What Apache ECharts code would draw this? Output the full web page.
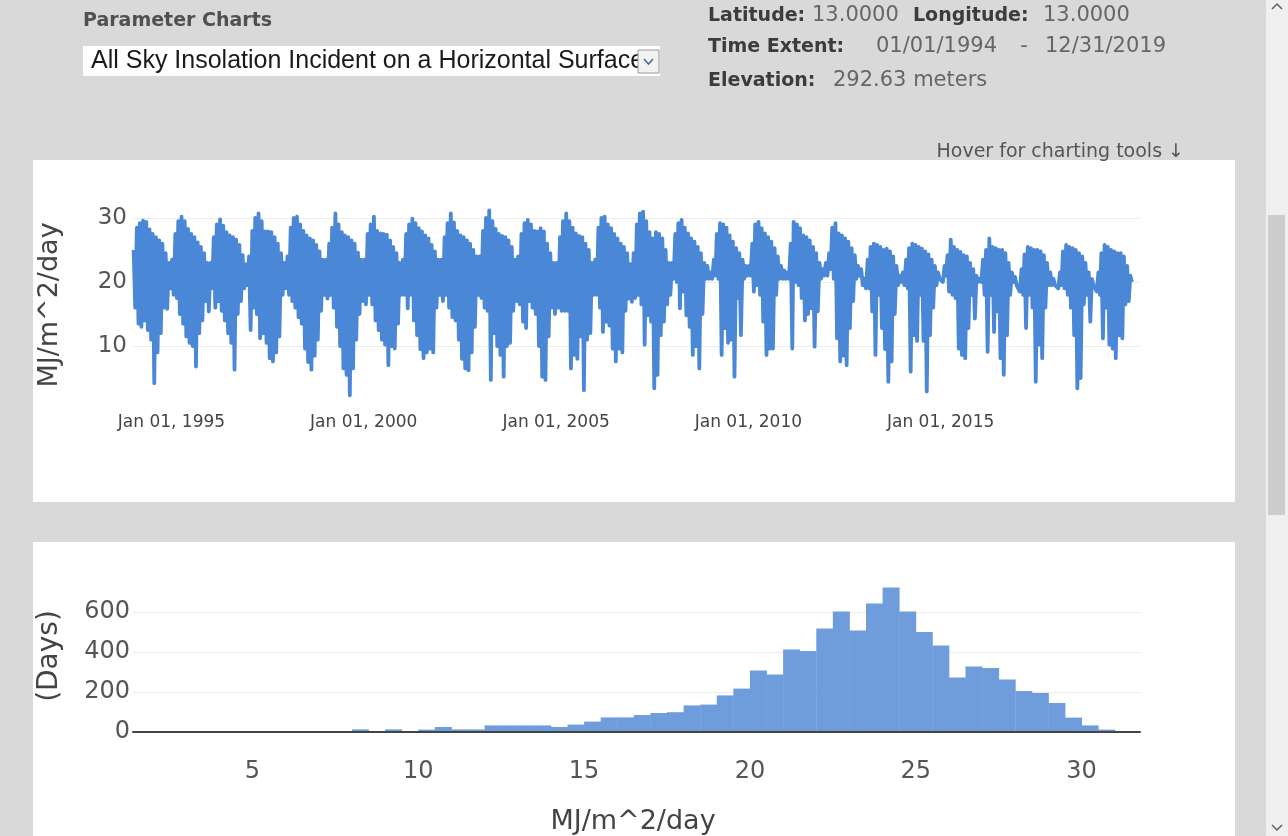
<!DOCTYPE html>
<html><head><meta charset="utf-8">
<script src="https://cdn.jsdelivr.net/npm/echarts@6/dist/echarts.min.js"></script>
<style>html,body{margin:0;padding:0;background:#d9d9d9;overflow:hidden}#c{width:1288px;height:836px}</style>
</head><body><div id="c"></div>
<script>
// ---- Daily insolation (read as monthly upper / lower envelope), MJ/m^2/day ----
const startYear = 1994;
const monthlyMax = [
  25,28.5,29.2,29.6,29.4,28.2,27.5,27,26.5,26,24.5,23,
  23.5,27.5,29.5,30.2,29.5,28.3,27.5,27,26.2,25.5,24.5,23,
  23,27,29,29.8,28.8,27.8,27.3,27,26.6,25.8,24.2,22.8,
  24,28,30,30.7,29.5,27.9,27.9,27.8,27,26,24.5,23,
  24,28.5,30,30.2,29,28,27.3,26.8,26.5,25.8,24.8,23.5,
  23.5,26,28.5,30.7,29,27.8,27.3,27,26.5,26,24.6,23.5,
  23.5,27.5,29,30.2,28,27.6,27.5,27.4,26.5,25.5,24.5,23,
  23.5,27.5,29,29.9,29.2,28.4,27.9,27.3,26.8,25.8,24.8,23.5,
  23.5,27,29.2,30.7,29.3,28,27.3,27,26.5,26,25,24,
  24,28,30,31.2,29.5,28.3,27.5,27.2,27,26.5,25.5,23.5,
  24,27.5,29.2,29.7,29,28,27.9,28.4,27.9,26,24.5,23,
  23,27,29.5,30.7,29.5,28.5,27.6,27.2,27,26,25,23,
  23.5,28.5,30,30.2,29,28.4,27.5,26.8,26,25.5,24.5,22.8,
  24.5,29,30.7,31,29.5,27.8,26.8,27.8,27.5,26.8,25,23,
  23,27.5,29.2,29.7,28.5,27.6,26.8,26.3,25.5,24.5,23,22.5,
  21.5,23.5,27.5,29.2,29,28.5,27.3,26.3,25.3,24.5,23.5,22.5,
  22.5,26,29,29.4,28.4,27.6,27,26.3,25.3,24,22.5,21.8,
  21.5,26,29.4,29,28.4,27.3,27,26.5,25.5,24.5,23,22,
  23,24.5,28.5,29.2,27.6,27.3,26.8,26.3,25.3,24.2,22.5,22,
  20.5,23.5,25.5,26,25.8,25.5,25,25.2,24.8,24,22.5,21,
  21.5,23.5,25.3,26,25.8,25.5,25.2,24.8,24.3,23.5,22.5,21.5,
  20.5,22.5,24.2,26.6,25.5,25,24.7,24.2,24,23,22,21,
  20.5,23.5,25,26.8,25.5,25.3,25,25,24.5,23,21.5,20.8,
  19.5,22,24.3,25.5,25.3,25,25,24.8,24.2,23,21.5,20.5,
  19.5,21.5,24.8,25.8,25.5,25.3,25,24.5,24,23,21.5,20.5,
  19.5,21.5,24.5,25.8,25.5,25,24.8,24.5,24.5,24,22.5,21
];
const monthlyMin = [
  16,13.5,13,14,12.5,11,4.2,9,12,16,15.8,19,
  18,17.5,15,13.5,11.5,10.5,10,6.8,12,14,17,15.4,
  19,16,17,15.5,14,12,10.5,6.3,15,17,19,19.5,
  12.5,16,15,11.2,12,10.5,8.1,7.6,9,11.5,18,19,
  18,17,16,14.5,13.5,9.6,7.5,6.3,8.5,11,15.5,18,
  17.4,18,16,13,10,6.5,5.5,2.3,6.5,11,15,17,
  16.5,18,16.5,14,12.5,11,10.2,7,10,9.6,13.5,18,
  18,15.9,18,14,11.7,9.5,8.1,9,9.6,9,16,18,
  17,18,16,14.5,14,11,8,6.5,6.2,9,13,18,
  17.5,16,15.5,4.7,12,10,8.6,5.2,10,10.5,15.5,17,
  16.5,13.8,12.8,17,16,15,10,5.2,4.7,11.5,16,15,
  16,15.5,15.5,15.5,6.5,8.6,8,11.5,3.1,11,12,18,
  18,16,12.2,13.8,13.2,9.6,7.6,9.6,9,15.5,17.4,16.9,
  17.5,18,16.5,10.2,14.8,13.8,3.4,5.5,11.7,13.8,16.5,18,
  20.5,20,15.9,18.5,14.8,13,8.6,10,6.5,15,20.5,20.5,
  20.5,21,20.5,8.6,12.8,10.5,11,5.2,17.5,11.7,20.5,21,
  21,18.5,19.5,18,13.8,8.6,9.6,9.6,18,20.5,20.5,20.5,
  20.5,9.6,20,19.5,17.5,14,15,15.9,9.9,15.4,20.5,21,
  21,22,20.5,11.2,7.6,8.5,7,12.8,17,20.5,21,19.5,
  19,19,15.4,8.6,18,12.8,9.5,4.4,7.6,15,19.5,20,
  19.5,19,6,11.7,10.8,18,10.8,2.9,11.7,16,19.5,20.5,
  20,21,18.5,18,17.5,9.6,8.6,8.1,12.8,18,14.3,20,
  20,18,9.1,18,12.2,15.4,8.1,5.5,11.7,18,20,19.5,
  18.5,18,12.8,18,16,4.4,10.2,8.1,16,19.5,19.5,19.5,
  19,19.5,19,18,16,11.7,3.4,5,16.5,18,13.8,19.5,
  18.5,18,11.2,16,10.2,9.6,8.1,11.7,11.2,16.5,17,20
];
const xTickDates = ['1995-01-01','2000-01-01','2005-01-01','2010-01-01','2015-01-01'];
const xTickLabels = ['Jan 01, 1995','Jan 01, 2000','Jan 01, 2005','Jan 01, 2010','Jan 01, 2015'];

// ---- Histogram (0.5 MJ bins) ----
const binStarts = [2,2.5,3,3.5,4,4.5,5,5.5,6,6.5,7,7.5,8,8.5,9,9.5,10,10.5,11,11.5,12,12.5,13,13.5,14,14.5,15,15.5,16,16.5,17,17.5,18,18.5,19,19.5,20,20.5,21,21.5,22,22.5,23,23.5,24,24.5,25,25.5,26,26.5,27,27.5,28,28.5,29,29.5,30,30.5,31];
const binWidth = 0.5;
const dayCounts = [1,1,1,1,2,1,2,2,3,3,3,4,13,5,13,5,12,25,13,13,33,33,33,33,25,37,52,73,73,85,95,99,133,137,183,217,308,288,413,405,517,603,508,642,722,603,500,433,272,328,320,262,205,195,145,72,33,12,5];
const histTicks = [5,10,15,20,25,30];

// ---- build series data ----
const tickTs = xTickDates.map(d => Date.parse(d + 'T00:00:00Z'));
const lineData = [];
for (let i = 0; i < monthlyMax.length; i++) {
  const y = startYear + Math.floor(i / 12), m = i % 12;
  lineData.push([Date.UTC(y, m, 7), monthlyMax[i]]);
  lineData.push([Date.UTC(y, m, 22), monthlyMin[i]]);
}
const histData = binStarts.map((s, i) => [s, s + binWidth, dayCounts[i]]);

const FONT = '"DejaVu Sans", Verdana, sans-serif';
const chart = echarts.init(document.getElementById('c'), null, {renderer: 'canvas'});

const txt = (x, y, text, font, fill, align, extra) => Object.assign({
  type: 'text', x: x, y: y, z: 5,
  style: {text: text, font: font, fill: fill, textAlign: align || 'left', textVerticalAlign: 'middle'}
}, extra || {});

chart.setOption({
  animation: false,
  backgroundColor: '#d9d9d9',
  graphic: {elements: [
    {type: 'rect', z: -10, shape: {x: 33, y: 160, width: 1202, height: 342}, style: {fill: '#ffffff'}},
    {type: 'rect', z: -10, shape: {x: 33, y: 542, width: 1202, height: 300}, style: {fill: '#ffffff'}},
    {type: 'rect', z: -10, shape: {x: 1266, y: 0, width: 22, height: 836}, style: {fill: '#f0f0f0'}},
    {type: 'rect', z: -9, shape: {x: 1268, y: 215, width: 17, height: 300}, style: {fill: '#cdcdcd'}},
    {type: 'polyline', z: -9, shape: {points: [[1272, 9], [1277, 4], [1282, 9]]}, style: {stroke: '#606060', lineWidth: 1.5, fill: null}},
    {type: 'polyline', z: -9, shape: {points: [[1272, 825], [1277, 830], [1282, 825]]}, style: {stroke: '#606060', lineWidth: 1.5, fill: null}},
    txt(83, 21, 'Parameter Charts', 'bold 19px ' + FONT, '#505050'),
    {type: 'rect', z: 1, shape: {x: 83, y: 46, width: 577, height: 30}, style: {fill: '#ffffff'}},
    txt(91, 61, 'All Sky Insolation Incident on a Horizontal Surface', '25px "Liberation Sans", Arial, sans-serif', '#1a1a1a'),
    {type: 'rect', z: 8, shape: {x: 638, y: 50, width: 21, height: 23}, style: {fill: '#f2f2f2', stroke: '#9a9a9a', lineWidth: 1}},
    {type: 'polyline', z: 9, shape: {points: [[644, 59], [648.5, 64], [653, 59]]}, style: {stroke: '#4c6a99', lineWidth: 1.6, fill: null}},
    txt(708, 16, 'Latitude:', 'bold 19px ' + FONT, '#3c3c3c'),
    txt(812, 16, '13.0000', '21px ' + FONT, '#666666'),
    txt(913, 16, 'Longitude:', 'bold 19px ' + FONT, '#3c3c3c'),
    txt(1043, 16, '13.0000', '21px ' + FONT, '#666666'),
    txt(708, 47, 'Time Extent:', 'bold 19px ' + FONT, '#3c3c3c'),
    txt(876, 47, '01/01/1994', '21px ' + FONT, '#666666'),
    txt(1024, 47, '-', '21px ' + FONT, '#666666', 'center'),
    txt(1045, 47, '12/31/2019', '21px ' + FONT, '#666666'),
    txt(708, 81, 'Elevation:', 'bold 19px ' + FONT, '#3c3c3c'),
    txt(833, 81, '292.63 meters', '21px ' + FONT, '#666666'),
    txt(1184, 152, 'Hover for charting tools \u2193', '19px ' + FONT, '#555555', 'right'),
    txt(50, 305, 'MJ/m^2/day', '27px ' + FONT, '#444444', 'center', {rotation: Math.PI / 2}),
    txt(50, 656, '(Days)', '28px ' + FONT, '#444444', 'center', {rotation: Math.PI / 2}),
    txt(633, 822, 'MJ/m^2/day', '27px ' + FONT, '#444444', 'center')
  ]},
  grid: [
    {left: 133, top: 202, width: 1007, height: 208},
    {left: 133, top: 580, width: 1007, height: 152}
  ],
  xAxis: [
    {
      type: 'value', gridIndex: 0, scale: true,
      min: Date.UTC(1994, 0, 1), max: Date.UTC(2020, 2, 8),
      axisLine: {show: false}, axisTick: {show: false}, splitLine: {show: false},
      axisLabel: {
        customValues: tickTs, margin: 4, fontSize: 17, fontFamily: FONT, color: '#444',
        formatter: v => { const k = tickTs.indexOf(v); return k >= 0 ? xTickLabels[k] : ''; }
      }
    },
    {
      type: 'value', gridIndex: 1, min: 1.4, max: 31.76, z: 5,
      axisLine: {show: true, lineStyle: {color: '#444', width: 2}},
      axisTick: {show: false}, splitLine: {show: false},
      axisLabel: {customValues: histTicks, margin: 28, fontSize: 24, fontFamily: FONT, color: '#555'}
    }
  ],
  yAxis: [
    {
      type: 'value', gridIndex: 0, min: 0, max: 32.5, interval: 10,
      axisLine: {show: false}, axisTick: {show: false},
      splitLine: {show: true, showMinLine: false, showMaxLine: false, lineStyle: {color: '#ececec', width: 1}},
      axisLabel: {showMaxLabel: false, margin: 6, fontSize: 23, fontFamily: FONT, color: '#555',
        formatter: v => (v === 0 ? '' : String(v))}
    },
    {
      type: 'value', gridIndex: 1, min: 0, max: 760, interval: 200,
      axisLine: {show: false}, axisTick: {show: false},
      splitLine: {show: true, showMinLine: false, showMaxLine: false, lineStyle: {color: '#ececec', width: 1}},
      axisLabel: {showMaxLabel: false, margin: 3, fontSize: 24, fontFamily: FONT, color: '#555'}
    }
  ],
  series: [
    {
      type: 'line', xAxisIndex: 0, yAxisIndex: 0, data: lineData,
      showSymbol: false, symbol: 'none',
      lineStyle: {color: '#4a87d6', width: 3.8, join: 'round'}
    },
    {
      type: 'custom', xAxisIndex: 1, yAxisIndex: 1, data: histData,
      encode: {x: [0, 1], y: 2},
      renderItem: function (params, api) {
        const p0 = api.coord([api.value(0), 0]);
        const p1 = api.coord([api.value(1), api.value(2)]);
        return {type: 'rect', shape: {x: p0[0], y: p1[1], width: p1[0] - p0[0] + 0.4, height: p0[1] - p1[1]},
          style: {fill: '#6f9ddc'}};
      }
    }
  ]
});
</script></body></html>
